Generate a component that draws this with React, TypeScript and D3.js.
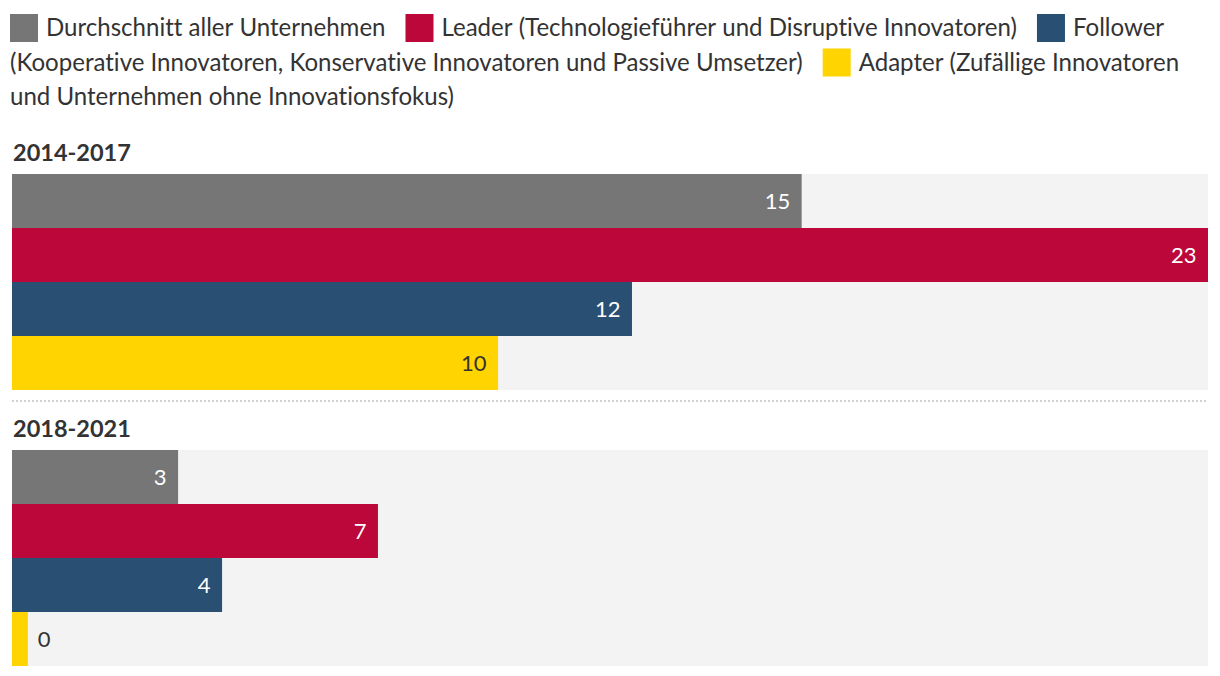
import React, { useEffect, useRef } from 'react';
import * as d3 from 'd3';

// legend / series names
const groups: string[] = [
  'Durchschnitt aller Unternehmen',
  'Leader (Technologieführer und Disruptive Innovatoren)',
  'Follower (Kooperative Innovatoren, Konservative Innovatoren und Passive Umsetzer)',
  'Adapter (Zufällige Innovatoren und Unternehmen ohne Innovationsfokus)',
];
const colors: string[] = ['#767676', '#bc073a', '#294f72', '#ffd400'];

const periods: string[] = ['2014-2017', '2018-2021'];
const values2014: number[] = [15.45, 23.4, 12.13, 9.51];
const values2018: number[] = [3.25, 7.16, 4.11, 0.31];

const App = () => {
  const ref = useRef<SVGSVGElement>(null);

  useEffect(() => {
    const svg = d3.select(ref.current);
    svg.selectAll('*').remove();

    const font = 'Lato, "Noto Sans", sans-serif';
    const textColor = '#333333';

    // ---- legend, flowed like inline html ----
    const legend = svg.append('g')
      .attr('font-family', font).attr('font-size', 24.05).attr('fill', textColor)
      .style('font-variant-ligatures', 'none');
    const measure = (s: string) => {
      const t = legend.append('text').text(s);
      const w = (t.node() as SVGTextElement).getComputedTextLength();
      t.remove();
      return w;
    };
    const space = measure('a b') - measure('ab');
    const leftX = 10;
    const maxX = 1212;
    const lineH = 34.5;
    let x = leftX;
    let baseline = 36;

    groups.forEach((g, i) => {
      const words = g.split(' ');
      const firstW = measure(words[0]);
      if (x + 36 + firstW > maxX) {
        x = leftX;
        baseline += lineH;
      }
      legend.append('rect')
        .attr('x', x).attr('y', baseline - 22)
        .attr('width', 28).attr('height', 28)
        .attr('fill', colors[i]);
      x += 36;
      words.forEach((w, j) => {
        const ww = measure(w);
        if (j > 0 && x + ww > maxX) {
          x = leftX;
          baseline += lineH;
        }
        legend.append('text').attr('x', x).attr('y', baseline).text(w);
        x += ww + space;
      });
      x = x - space + 20;
    });

    // ---- bars ----
    const chartLeft = 12;
    const chartWidth = 1196;
    const barH = 54;
    const panelTops = [174, 450];
    const allValues = [values2014, values2018];

    const xScale = d3.scaleLinear()
      .domain([0, d3.max([...values2014, ...values2018]) as number])
      .range([0, chartWidth]);

    allValues.forEach((vals, p) => {
      const top = panelTops[p];
      const yScale = d3.scaleBand<number>()
        .domain(d3.range(vals.length))
        .range([top, top + barH * vals.length])
        .padding(0);

      svg.append('text')
        .attr('x', chartLeft + 1).attr('y', top - 13.5)
        .attr('font-family', font).attr('font-size', 23.5).attr('font-weight', 700)
        .attr('fill', textColor)
        .text(periods[p]);

      svg.append('rect')
        .attr('x', chartLeft).attr('y', top)
        .attr('width', chartWidth).attr('height', barH * vals.length)
        .attr('fill', '#f3f3f3');

      const bar = svg.append('g').selectAll('g')
        .data(vals)
        .enter().append('g');

      bar.append('rect')
        .attr('x', chartLeft)
        .attr('y', (_d, i) => yScale(i) as number)
        .attr('width', d => xScale(d))
        .attr('height', yScale.bandwidth())
        .attr('fill', (_d, i) => colors[i]);

      bar.append('text')
        .attr('font-family', font).attr('font-size', 22)
        .attr('y', (_d, i) => (yScale(i) as number) + barH / 2)
        .attr('dy', '0.36em')
        .each(function (d, i) {
          const inside = xScale(d) > 50;
          d3.select(this)
            .attr('x', inside ? chartLeft + xScale(d) - 11.5 : chartLeft + xScale(d) + 10)
            .attr('text-anchor', inside ? 'end' : 'start')
            .attr('fill', !inside || i === 3 ? textColor : '#ffffff')
            .text(Math.round(d));
        });
    });

    // dotted separator between the two periods
    svg.append('line')
      .attr('x1', chartLeft).attr('x2', chartLeft + chartWidth)
      .attr('y1', 401).attr('y2', 401)
      .attr('stroke', '#d0d0d0').attr('stroke-width', 2)
      .attr('stroke-dasharray', '2 2');
  }, []);

  return (
    <svg
      ref={ref}
      width={1220}
      height={676}
      style={{ position: 'absolute', left: 0, top: 0, background: '#ffffff' }}
    />
  );
};

export default App;
